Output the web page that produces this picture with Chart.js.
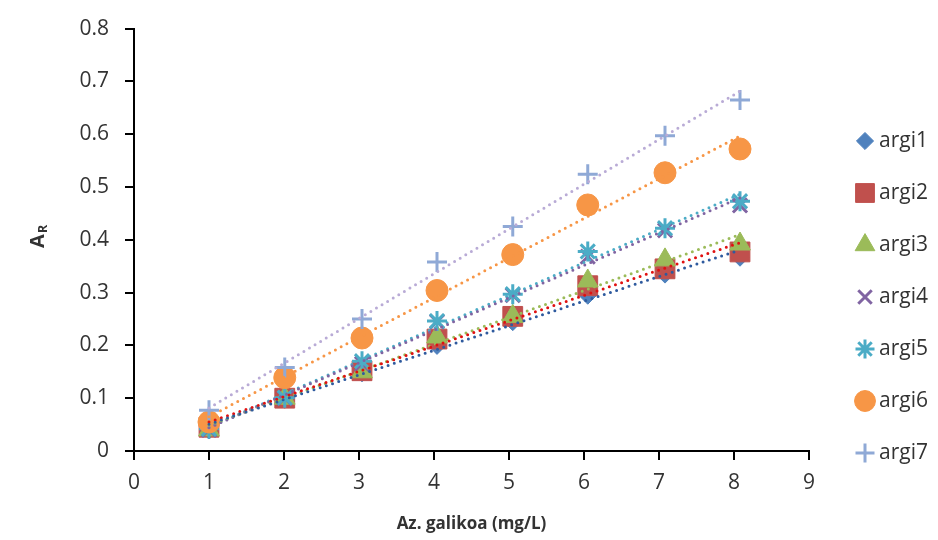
<!DOCTYPE html>
<html>
<head>
<meta charset="utf-8">
<script src="https://cdn.jsdelivr.net/npm/chart.js@4/dist/chart.umd.min.js"></script>
<style>
  html, body { margin: 0; padding: 0; background: #fff; }
  #wrap { width: 938px; height: 540px; position: relative; }
</style>
</head>
<body>
<div id="wrap"><canvas id="plot" width="938" height="540"></canvas></div>
<script>
// data
const seriesNames = ["argi1", "argi2", "argi3", "argi4", "argi5", "argi6", "argi7"];
const concX = [1.0, 2.01, 3.04, 4.04, 5.05, 6.05, 7.08, 8.08];
const argi1 = [0.040, 0.098, 0.148, 0.200, 0.245, 0.295, 0.335, 0.367];
const argi2 = [0.045, 0.100, 0.152, 0.212, 0.255, 0.313, 0.345, 0.377];
const argi3 = [0.040, 0.100, 0.150, 0.216, 0.255, 0.322, 0.362, 0.392];
const argi4 = [0.040, 0.100, 0.165, 0.245, 0.295, 0.368, 0.418, 0.465];
const argi5 = [0.042, 0.101, 0.170, 0.246, 0.297, 0.378, 0.422, 0.473];
const argi6 = [0.055, 0.139, 0.214, 0.304, 0.372, 0.466, 0.527, 0.572];
const argi7 = [0.077, 0.158, 0.250, 0.358, 0.425, 0.524, 0.597, 0.665];
const allSeries = [argi1, argi2, argi3, argi4, argi5, argi6, argi7];

const markerColors = ["#4F81BD", "#C0504D", "#9BBB59", "#8064A2", "#4BACC6", "#F79646", "#8FA9D6"];
const trendColors = ["#2E5A9E", "#E01010", "#9BBB59", "#8064A2", "#4BACC6", "#F79646", "#B9ABD6"];
const markerStyles = ["rectRot", "rect", "triangle", "crossRot", "star", "circle", "cross"];
const markerRadius = [9, 14, 12, 10, 10, 11, 10];

const FONT = "'Open Sans', 'Liberation Sans', sans-serif";
const TXT = "#333333";

// least-squares trendline for each series
function trend(ys) {
    const n = ys.length;
    let sx = 0, sy = 0, sxx = 0, sxy = 0;
    for (let i = 0; i < n; i++) {
        sx += concX[i]; sy += ys[i];
        sxx += concX[i] * concX[i]; sxy += concX[i] * ys[i];
    }
    const b = (n * sxy - sx * sy) / (n * sxx - sx * sx);
    const a = (sy - b * sx) / n;
    const x0 = concX[0], x1 = concX[n - 1];
    return [{ x: x0, y: a + b * x0 }, { x: x1, y: a + b * x1 }];
}

function isStroked(st) {
    return st === "crossRot" || st === "star" || st === "cross";
}

const datasets = [];
allSeries.forEach((ys, i) => {
    datasets.push({
        label: seriesNames[i],
        data: ys.map((y, k) => ({ x: concX[k], y: y })),
        showLine: false,
        pointStyle: markerStyles[i],
        pointRadius: markerRadius[i],
        pointBackgroundColor: markerColors[i],
        pointBorderColor: markerColors[i],
        pointBorderWidth: isStroked(markerStyles[i]) ? 3 : 1,
        order: 10 - i
    });
});
allSeries.forEach((ys, i) => {
    datasets.push({
        label: seriesNames[i] + " trend",
        data: trend(ys),
        showLine: true,
        pointRadius: 0,
        borderColor: trendColors[i],
        borderWidth: 3,
        borderDash: [0, 6.5],
        borderCapStyle: "round",
        order: 0
    });
});

// y-axis title with subscript, and the legend on the right
const extras = {
    id: "extras",
    afterDraw(chart) {
        const ctx = chart.ctx;
        ctx.save();
        ctx.translate(37, 238);
        ctx.rotate(-Math.PI / 2);
        ctx.fillStyle = TXT;
        ctx.textBaseline = "alphabetic";
        ctx.font = "bold 20px " + FONT;
        const wA = ctx.measureText("A").width;
        ctx.fillText("A", -10, 7);
        ctx.font = "bold 13px " + FONT;
        ctx.fillText("R", -10 + wA + 1, 10);
        ctx.restore();

        const legY0 = 141, legStep = 52;
        seriesNames.forEach((name, i) => {
            const y = legY0 + i * legStep;
            const st = markerStyles[i];
            ctx.save();
            ctx.fillStyle = markerColors[i];
            ctx.strokeStyle = markerColors[i];
            ctx.lineWidth = isStroked(st) ? 3 : 1;
            Chart.helpers.drawPoint(ctx, {
                pointStyle: st,
                radius: markerRadius[i] * 0.95,
                borderWidth: ctx.lineWidth,
                rotation: 0
            }, 865, y);
            ctx.restore();
            ctx.fillStyle = TXT;
            ctx.font = "21px " + FONT;
            ctx.textBaseline = "middle";
            ctx.fillText(name, 879, y);
        });
    }
};

new Chart(document.getElementById("plot"), {
    type: "scatter",
    data: { datasets: datasets },
    options: {
        responsive: false,
        animation: false,
        layout: { padding: { left: 0, right: 129, top: 26, bottom: 0 } },
        plugins: { legend: { display: false }, tooltip: { enabled: false } },
        scales: {
            x: {
                type: "linear",
                min: 0, max: 9,
                ticks: { stepSize: 1, color: TXT, font: { family: FONT, size: 21 }, padding: 10 },
                grid: { drawOnChartArea: false, drawTicks: true, tickLength: 9, color: "#000", lineWidth: 2 },
                border: { display: true, color: "#000", width: 2 },
                title: { display: true, text: "Az. galikoa (mg/L)", color: TXT,
                         font: { family: FONT, size: 17, weight: "bold" }, padding: { top: 0, bottom: 6 } },
                afterFit(scale) { scale.height = 89; }
            },
            y: {
                type: "linear",
                min: 0, max: 0.8,
                ticks: { stepSize: 0.1, color: TXT, font: { family: FONT, size: 21 }, padding: 16 },
                grid: { drawOnChartArea: false, drawTicks: true, tickLength: 9, color: "#000", lineWidth: 2 },
                border: { display: true, color: "#000", width: 2 },
                afterFit(scale) { scale.width = 134; }
            }
        }
    },
    plugins: [extras]
});
</script>
</body>
</html>
